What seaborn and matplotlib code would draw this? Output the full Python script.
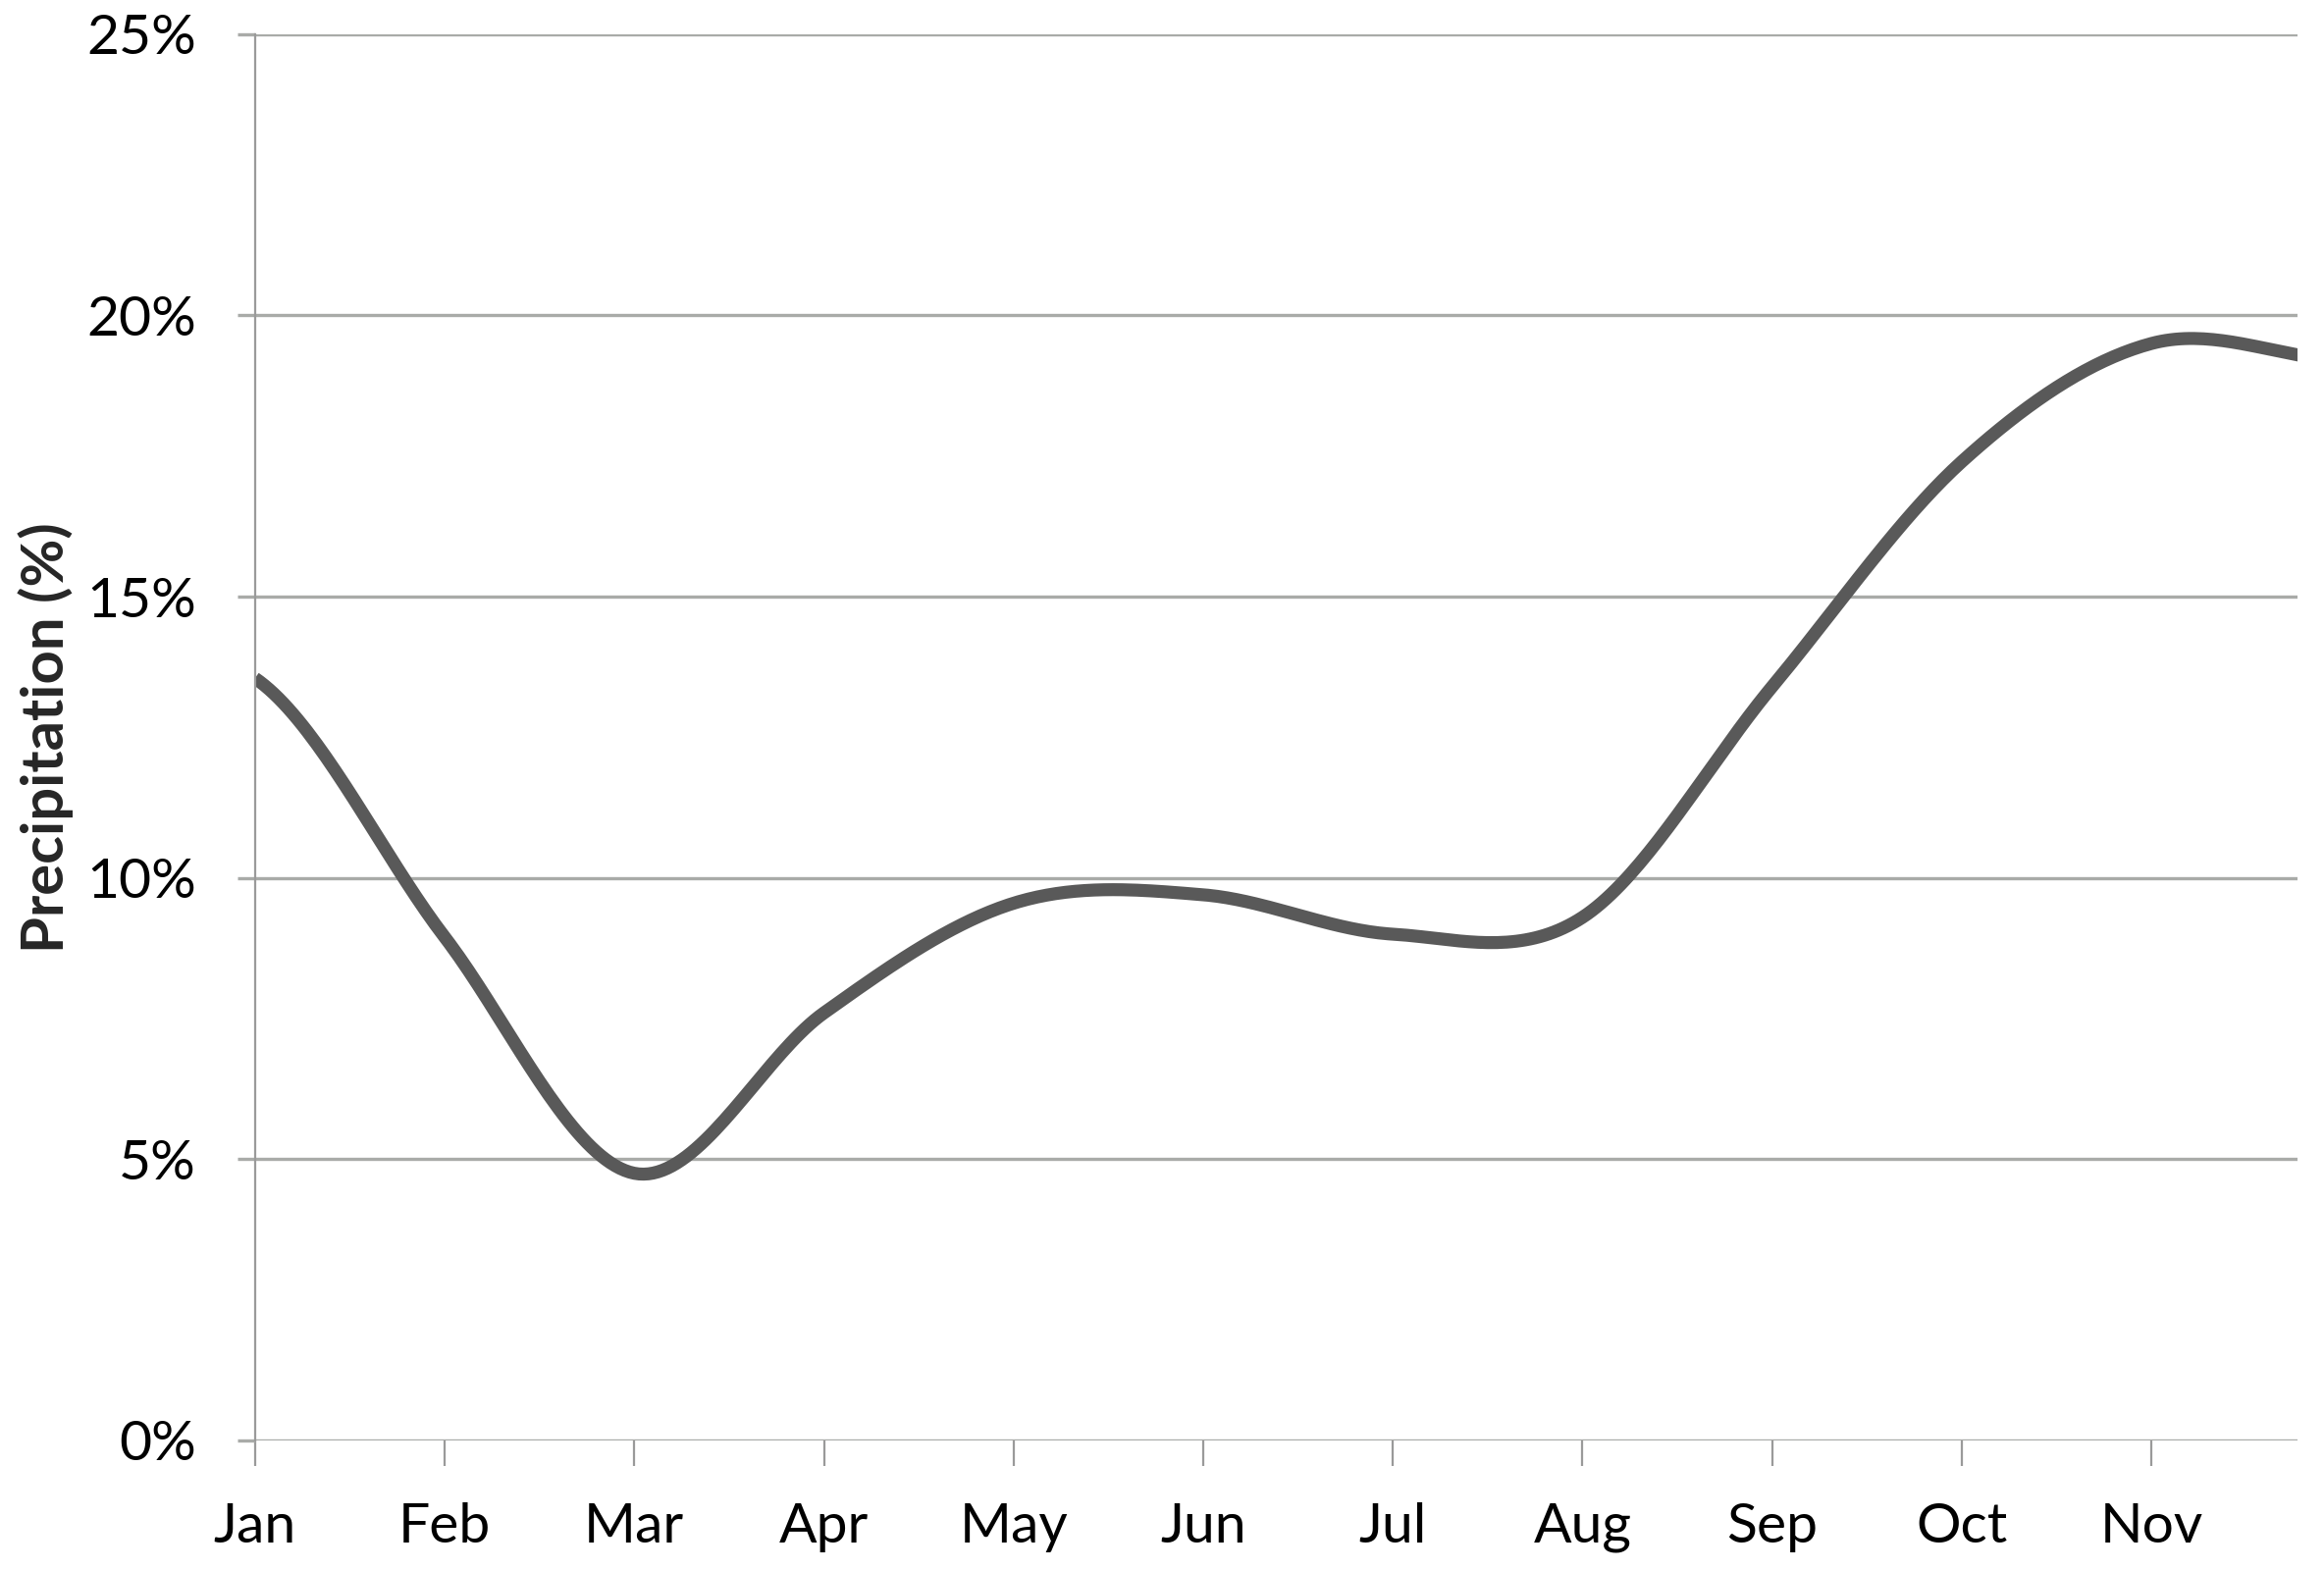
import numpy as np
import pandas as pd
import matplotlib
matplotlib.use("Agg")
import matplotlib.pyplot as plt
import seaborn as sns

# --- Data ------------------------------------------------------------------
months = ["Jan", "Feb", "Mar", "Apr", "May", "Jun",
          "Jul", "Aug", "Sep", "Oct", "Nov", "Dec"]
precip = [13.55, 8.95, 4.75, 7.6, 9.55, 9.7, 9.0, 9.3, 13.4, 17.4, 19.5, 19.2]
y_ticks = [0, 5, 10, 15, 20, 25]


def smooth_curve(values, n=40):
    '''
    Catmull-Rom curve through the points (same idea as Excel's smoothed line).
    '''
    p = np.asarray(values, dtype=float)
    ext = np.concatenate([[p[0]], p, [p[-1]]])
    xs, ys = [], []
    for i in range(len(p) - 1):
        p0, p1, p2, p3 = ext[i], ext[i + 1], ext[i + 2], ext[i + 3]
        m1 = (p2 - p0) / 2
        m2 = (p3 - p1) / 2
        t = np.linspace(0, 1, n, endpoint=False)
        h00 = 2 * t**3 - 3 * t**2 + 1
        h10 = t**3 - 2 * t**2 + t
        h01 = -2 * t**3 + 3 * t**2
        h11 = t**3 - t**2
        xs.append(i + t)
        ys.append(h00 * p1 + h10 * m1 + h01 * p2 + h11 * m2)
    xs.append([len(p) - 1])
    ys.append([p[-1]])
    return np.concatenate(xs), np.concatenate(ys)


sx, sy = smooth_curve(precip)
df = pd.DataFrame({"x": sx, "precip": sy})

# --- Plot ------------------------------------------------------------------
sns.set_theme(style="white")
plt.rcParams["font.family"] = ["Lato", "DejaVu Sans"]

fig = plt.figure(figsize=(23.68, 16), dpi=100)
ax = fig.add_axes([0.1097, 0.0825, 0.8789, 0.8958])

grid_color = "#a9aba8"
ax.set_axisbelow(True)
for v in y_ticks:
    ax.axhline(v, color=grid_color, linewidth=2.4, zorder=0)

sns.lineplot(data=df, x="x", y="precip", ax=ax, color="#595959",
             linewidth=9.5, sort=False, solid_capstyle="butt")

# ticks first, limits after (set_xticks would widen the view to Dec)
ax.set_xticks(range(len(months)))
ax.set_xticklabels(months)
ax.set_yticks(y_ticks)
ax.set_yticklabels([f"{v}%" for v in y_ticks])
ax.set_xlim(0, 10.77)
ax.set_ylim(0, 25)

for side in ["top", "right", "bottom"]:
    ax.spines[side].set_visible(False)
ax.spines["left"].set_color("#9a9a9a")
ax.spines["left"].set_linewidth(1.6)

ax.tick_params(axis="x", which="major", bottom=True, direction="out",
               length=19, width=1.6, color="#9a9a9a",
               labelsize=41, pad=26, labelcolor="black")
ax.tick_params(axis="y", which="major", left=True, direction="out",
               length=13, width=2.4, color=grid_color,
               labelsize=41, pad=30, labelcolor="black")

ax.set_xlabel("")
ax.set_ylabel("Precipitation (%)", fontsize=43, fontweight="bold")
ax.yaxis.set_label_coords(-0.089, 0.5)

fig.savefig("out.png", dpi=100)
plt.close(fig)
